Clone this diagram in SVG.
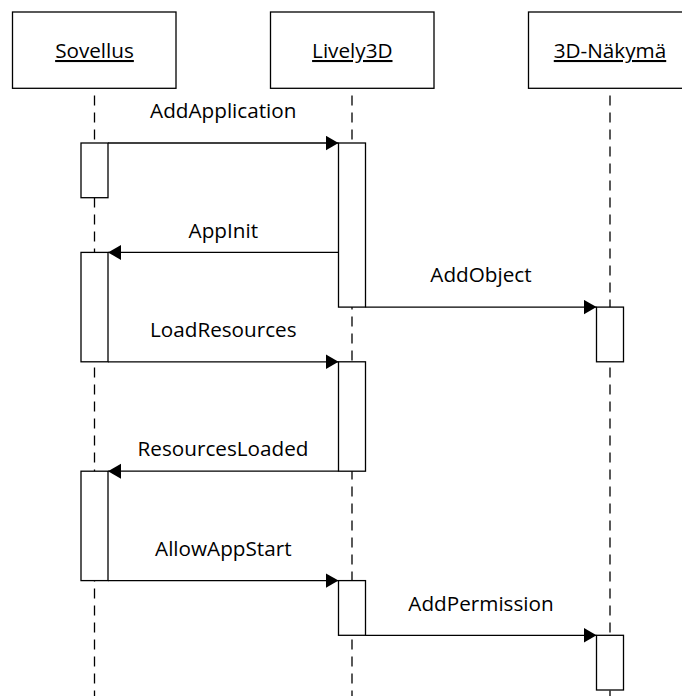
<svg xmlns="http://www.w3.org/2000/svg" width="682" height="696" viewBox="0 0 682 696">
  <style>
    .head { fill: #fff; stroke: #000; stroke-width: 1.3; }
    .act { fill: #fff; stroke: #000; stroke-width: 1.3; }
    .life { fill: none; stroke: #000; stroke-width: 1.3; stroke-dasharray: 10 7; }
    .msg { fill: none; stroke: #000; stroke-width: 1.3; marker-end: url(#arrow); }
    text { font-family: "Open Sans", "Noto Sans", "Liberation Sans", sans-serif; font-size: 20.7px; fill: #000; text-anchor: middle; }
    .name { text-decoration: underline; }
  </style>
  <defs>
    <marker id="arrow" markerUnits="userSpaceOnUse" markerWidth="14" markerHeight="16" refX="13" refY="7.5" orient="auto">
      <path d="M0,0 L13,7.5 L0,15 z" fill="#000"/>
    </marker>
  </defs>
  <rect width="682" height="696" fill="#fff"/>

  <!-- lifelines -->
  <g id="lifelines">
    <line class="life" x1="94.5" y1="95.5" x2="94.5" y2="696"/>
    <line class="life" x1="352" y1="95.5" x2="352" y2="696"/>
    <line class="life" x1="610" y1="95.5" x2="610" y2="696"/>
  </g>

  <!-- participant: Sovellus -->
  <g id="sovellus">
    <rect class="head" x="12.5" y="12" width="163.5" height="76.3"/>
    <text class="name" x="94.5" y="58">Sovellus</text>
    <rect class="act" x="81" y="143" width="27" height="54.7"/>
    <rect class="act" x="81" y="252.4" width="27" height="109.4"/>
    <rect class="act" x="81" y="471.2" width="27" height="109.4"/>
  </g>

  <!-- participant: Lively3D -->
  <g id="lively3d">
    <rect class="head" x="270.5" y="12" width="163.5" height="76.3"/>
    <text class="name" x="352.3" y="58">Lively3D</text>
    <rect class="act" x="338.5" y="143" width="27" height="164.1"/>
    <rect class="act" x="338.5" y="361.8" width="27" height="109.4"/>
    <rect class="act" x="338.5" y="580.6" width="27" height="54.7"/>
  </g>

  <!-- participant: 3D-Näkymä -->
  <g id="nakyma">
    <rect class="head" x="528.5" y="12" width="163.5" height="76.3"/>
    <text class="name" x="610" y="58">3D-Näkymä</text>
    <rect class="act" x="596.5" y="307.1" width="27" height="54.7"/>
    <rect class="act" x="596.5" y="635.3" width="27" height="54.7"/>
  </g>

  <!-- messages -->
  <g id="messages">
    <line class="msg" x1="108" y1="143" x2="338.5" y2="143"/>
    <text x="223.3" y="118">AddApplication</text>

    <line class="msg" x1="338.5" y1="252.4" x2="108" y2="252.4"/>
    <text x="223.3" y="238">AppInit</text>

    <line class="msg" x1="365.5" y1="307.1" x2="596.5" y2="307.1"/>
    <text x="481" y="282">AddObject</text>

    <line class="msg" x1="108" y1="361.8" x2="338.5" y2="361.8"/>
    <text x="223.3" y="337">LoadResources</text>

    <line class="msg" x1="338.5" y1="471.2" x2="108" y2="471.2"/>
    <text x="223" y="456">ResourcesLoaded</text>

    <line class="msg" x1="108" y1="580.6" x2="338.5" y2="580.6"/>
    <text x="223.3" y="556">AllowAppStart</text>

    <line class="msg" x1="365.5" y1="635.3" x2="596.5" y2="635.3"/>
    <text x="481" y="610.5">AddPermission</text>
  </g>
</svg>
